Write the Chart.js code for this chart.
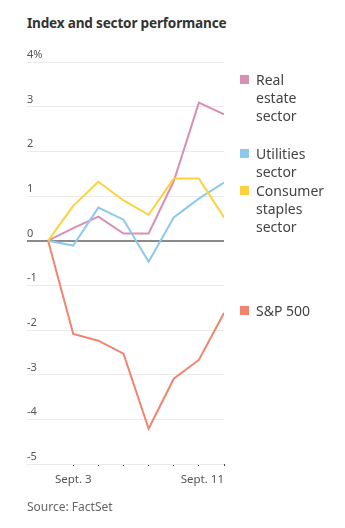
<!DOCTYPE html>
<html>
<head>
<meta charset="utf-8">
<script src="https://cdn.jsdelivr.net/npm/chart.js@4.4.1/dist/chart.umd.min.js"></script>
<style>
  body { margin: 0; background: #fff; font-family: "Noto Sans", sans-serif; }
  #wrap { position: relative; width: 345px; height: 528px; overflow: hidden; }
  #chart { position: absolute; left: 0; top: 0; }
  .title { position: absolute; left: 27px; top: 13px; font-size: 13.6px; font-weight: bold; color: #333; letter-spacing: -0.2px; }
  .source { position: absolute; left: 27px; top: 498px; font-size: 12px; color: #666; }
  .leg { position: absolute; left: 240px; font-size: 14px; line-height: 18px; color: #444; padding-left: 16px; }
  .leg i { position: absolute; left: 0; top: 4px; width: 9px; height: 9px; }
</style>
</head>
<body>
<div id="wrap">
  <div class="title">Index and sector performance</div>
  <canvas id="chart" width="345" height="528"></canvas>
  <div class="leg" style="top:71px"><i style="background:#d98fb5"></i>Real<br>estate<br>sector</div>
  <div class="leg" style="top:145px"><i style="background:#8fc8ec"></i>Utilities<br>sector</div>
  <div class="leg" style="top:182px"><i style="background:#fcd23c"></i>Consumer<br>staples<br>sector</div>
  <div class="leg" style="top:302px"><i style="background:#f2836e"></i>S&amp;P 500</div>
  <div class="source">Source: FactSet</div>
</div>
<script>
// 取引日 (8/30 を基準 0 とする)
const dates = ["Aug. 30", "Sept. 3", "Sept. 4", "Sept. 5", "Sept. 6", "Sept. 9", "Sept. 10", "Sept. 11"];
const xLabelDays = ["Sept. 3", "Sept. 11"];

// 各系列の騰落率 (%)
const realEstate = [0, 0.28, 0.54, 0.16, 0.16, 1.33, 3.09, 2.83];
const utilities = [0, -0.11, 0.74, 0.47, -0.47, 0.52, 0.94, 1.30];
const staples = [0, 0.78, 1.32, 0.90, 0.58, 1.39, 1.39, 0.52];
const sp500 = [0, -2.09, -2.24, -2.53, -4.21, -3.09, -2.67, -1.62];

const yTicks = [4, 3, 2, 1, 0, -1, -2, -3, -4, -5];

function toPoints(arr) {
  return arr.map((v, i) => ({ x: i, y: v }));
}

function makeSet(label, arr, color) {
  return {
    label: label,
    data: toPoints(arr),
    borderColor: color,
    borderWidth: 2,
    pointRadius: 0,
    tension: 0,
    fill: false
  };
}

// x軸ラベルを描く (最後のラベルは右寄せ)
const xLabelPlugin = {
  id: "xLabels",
  afterDraw(chart) {
    const ctx = chart.ctx;
    const xs = chart.scales.x;
    const y = chart.chartArea.bottom + 16;
    ctx.save();
    ctx.font = "11.5px 'Noto Sans', sans-serif";
    ctx.fillStyle = "#555";
    ctx.textBaseline = "middle";
    xLabelDays.forEach((d, k) => {
      const px = xs.getPixelForValue(dates.indexOf(d));
      ctx.textAlign = k === xLabelDays.length - 1 ? "right" : "center";
      ctx.fillText(d, px, y);
    });
    ctx.restore();
  }
};

new Chart(document.getElementById("chart"), {
  type: "line",
  data: {
    datasets: [
      makeSet("Consumer staples sector", staples, "#fcd23c"),
      makeSet("Utilities sector", utilities, "#8fc8ec"),
      makeSet("Real estate sector", realEstate, "#d98fb5"),
      makeSet("S&P 500", sp500, "#f2836e")
    ]
  },
  options: {
    responsive: false,
    animation: false,
    layout: { padding: { left: 27, right: 121, top: 62, bottom: 62 } },
    plugins: { legend: { display: false }, tooltip: { enabled: false } },
    scales: {
      x: {
        type: "linear",
        min: -0.84,
        max: dates.length - 1,
        afterBuildTicks(scale) {
          scale.ticks = dates.slice(1).map((d, i) => ({ value: i + 1 }));
        },
        ticks: { display: false },
        border: { display: false },
        grid: { drawOnChartArea: false, drawTicks: true, tickLength: 2, color: "#444", lineWidth: 1 }
      },
      y: {
        min: -5,
        max: 4,
        afterBuildTicks(scale) {
          scale.ticks = yTicks.map((v) => ({ value: v }));
        },
        border: { display: false },
        ticks: {
          mirror: true,
          padding: 0,
          labelOffset: -7,
          color: "#555",
          font: { family: "'Noto Sans', sans-serif", size: 11 },
          callback: (v) => (v === 4 ? "4%" : String(v))
        },
        grid: {
          drawTicks: false,
          color: (c) => (c.tick && c.tick.value === 0 ? "#8a8a8a" : "#ebebeb"),
          lineWidth: (c) => (c.tick && c.tick.value === 0 ? 2 : 1)
        }
      }
    }
  },
  plugins: [xLabelPlugin]
});
</script>
</body>
</html>
